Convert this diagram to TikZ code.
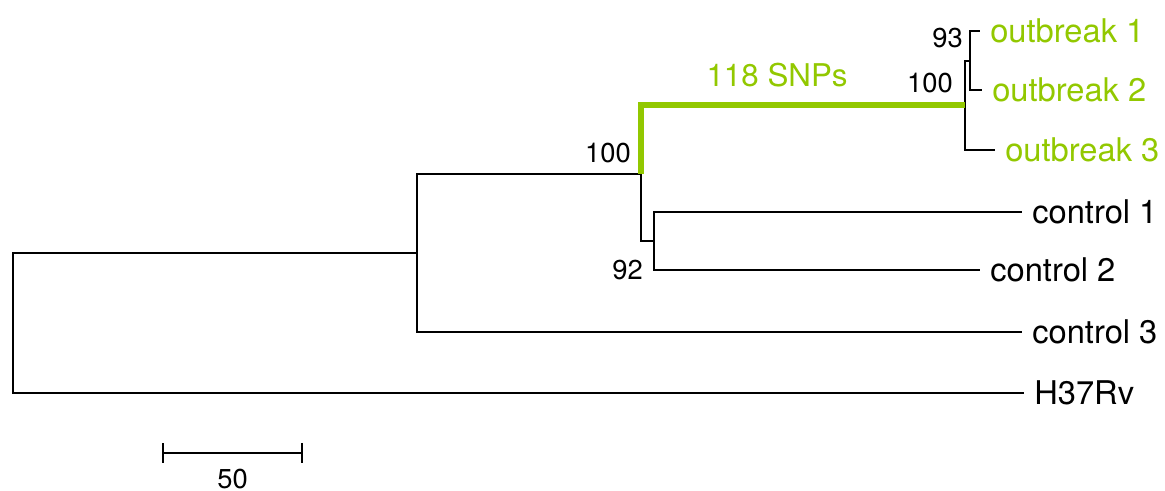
\documentclass[tikz,border=0pt]{standalone}
\usepackage{fontspec}
\setmainfont{TeX Gyre Heros}
\usepackage{tikz}
\usetikzlibrary{arrows.meta,positioning}

\definecolor{snpgreen}{RGB}{146,200,0}

\begin{document}
\begin{tikzpicture}[x=0.75pt,y=-0.75pt,
  branch/.style={line width=1.5pt},
  snpbranch/.style={line width=4pt,draw=snpgreen},
  leaf/.style={anchor=west,inner xsep=7.5pt,inner ysep=0pt,font=\fontsize{24.5}{28}\selectfont},
  boot/.style={inner sep=0pt,font=\fontsize{20.5}{24}\selectfont}]
\useasboundingbox (0,0) rectangle (1165,491);

% internal nodes of the tree
\coordinate (root) at (13,324);
\coordinate (anc) at (417,253);
\coordinate (clade) at (641,174);
\coordinate (ctl) at (654,241);
\coordinate (outb) at (965,105);
\coordinate (out12) at (970,61);

% tips
\node[leaf,text=snpgreen] (out1) at (980,31) {outbreak 1};
\node[leaf,text=snpgreen] (out2) at (982,90) {outbreak 2};
\node[leaf,text=snpgreen] (out3) at (995,150) {outbreak 3};
\node[leaf] (ctl1) at (1022,212) {control 1};
\node[leaf] (ctl2) at (980,270) {control 2};
\node[leaf] (ctl3) at (1022,332) {control 3};
\node[leaf] (h37) at (1024,393) {H37Rv};

% branches
\draw[branch] (root) |- (anc);
\draw[branch] (root) |- (h37);
\draw[branch] (anc) |- (clade);
\draw[branch] (anc) |- (ctl3);
\draw[branch] (clade) |- (ctl);
\draw[branch] (ctl) |- (ctl1);
\draw[branch] (ctl) |- (ctl2);
\draw[branch] (outb) |- (out12);
\draw[branch] (outb) |- (out3);
\draw[branch] (out12) |- (out1);
\draw[branch] (out12) |- (out2);
\draw[snpbranch] (clade) |- node[pos=0.71,above=11.5pt,boot,font=\fontsize{23.5}{28}\selectfont,text=snpgreen] (snps) {118 SNPs} (outb);

% bootstrap support
\node[boot,anchor=base east] (bsclade) at (631,163) {100};
\node[boot,anchor=base east] (bsctl) at (643,280) {92};
\node[boot,anchor=base east] (bsoutb) at (953,93) {100};
\node[boot,anchor=base east] (bsout12) at (963,48) {93};

% scale bar
\coordinate (sbl) at (162,453);
\coordinate (sbr) at (303,453);
\draw[branch,{Bar[width=15pt]}-{Bar[width=15pt]}] (sbl) -- node[below=11pt,boot] (sblabel) {50} (sbr);
\end{tikzpicture}
\end{document}
